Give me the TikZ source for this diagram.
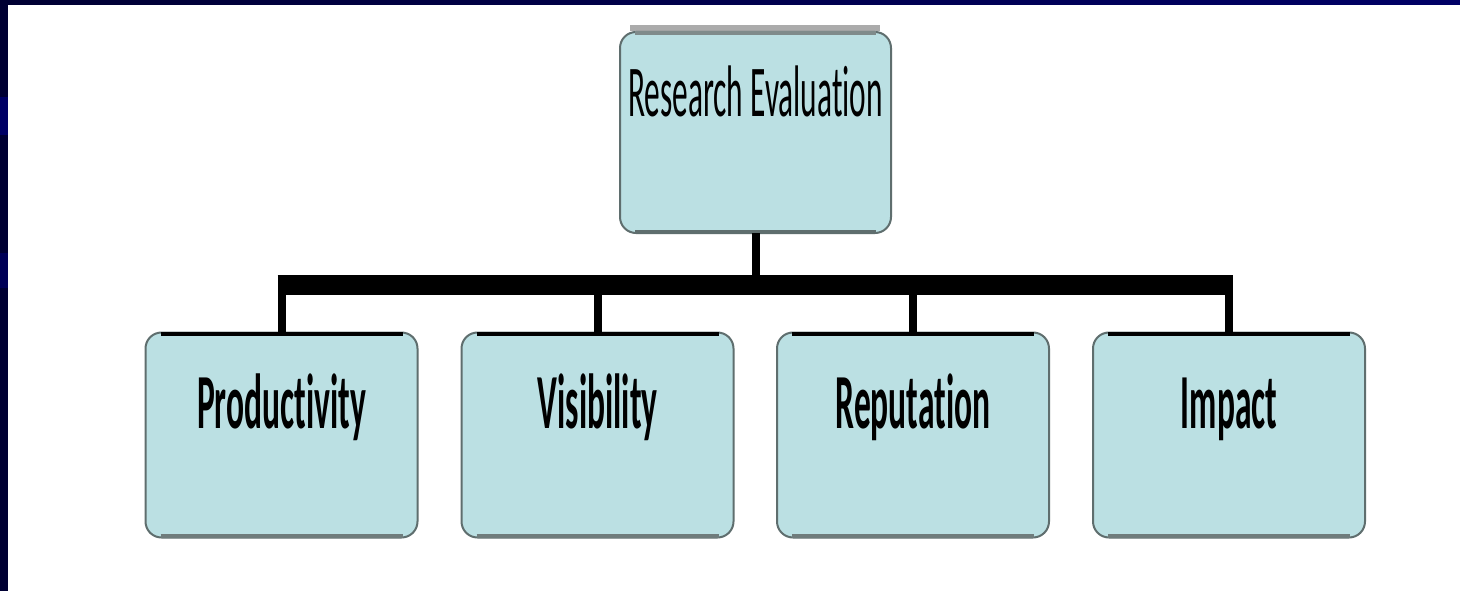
\documentclass[tikz,border=0pt]{standalone}
\usepackage{fontspec}
\newfontfamily\labfont[FakeStretch=0.43,RawFeature={-liga;-dlig;-calt}]{Carlito}
\newfontfamily\topfont[FakeStretch=0.43,RawFeature={-liga;-dlig;-calt}]{Carlito}
\usetikzlibrary{calc}
\definecolor{navyA}{HTML}{000033}
\definecolor{navyB}{HTML}{000066}
\definecolor{boxfill}{HTML}{BBE0E3}
\definecolor{boxline}{HTML}{5F6E6E}
\definecolor{shadowgray}{HTML}{ABABAB}
\tikzset{
  box/.style={draw=boxline, line width=2pt, fill=boxfill, rounded corners=16pt,
    minimum width=272pt, minimum height=205pt, inner sep=0pt, outer sep=0pt},
  toplabel/.style={font=\topfont\fontsize{73}{80}\selectfont, anchor=base, inner sep=0pt},
  lab/.style={font=\labfont\bfseries\fontsize{78}{84}\selectfont, anchor=base, inner sep=0pt},
  drop/.style={line width=8pt, black},
  bar/.style={line width=20pt, black},
}
\begin{document}
\begin{tikzpicture}[x=1pt,y=-1pt]
\useasboundingbox (0,0) rectangle (1460,591);
\fill[white] (0,0) rectangle (1460,591);
% frame
\shade[left color=navyA, right color=navyB] (0,0) rectangle (1460,5);
\fill[navyA] (0,0) rectangle (8,591);
\fill[navyB] (0,97) rectangle (8,135);
\fill[navyB!70!navyA] (0,253) rectangle (8,288);
% top box
\fill[shadowgray] (630,25) rectangle (880,31);
\node[box, minimum width=271pt, minimum height=201pt] (top) at (755.5,132.5) {};
\draw[boxline!80!white, line width=4pt] ([xshift=15pt,yshift=-1.5pt]top.north west) -- ([xshift=-15pt,yshift=-1.5pt]top.north east);
\draw[boxline, line width=4pt] ([xshift=15pt,yshift=1.5pt]top.south west) -- ([xshift=-15pt,yshift=1.5pt]top.south east);
\node[toplabel] (toptext) at ($(top.north)+(0,85)$) {Research Evaluation};
% children
\foreach \n/\x/\t in {p/281.5/Productivity, v/597.5/Visibility, r/913/Reputation, i/1229/Impact}{
  \node[box] (\n) at (\x,435) {};
  \draw[black, line width=4pt] ([xshift=15pt,yshift=-1.5pt]\n.north west) -- ([xshift=-15pt,yshift=-1.5pt]\n.north east);
  \draw[boxline!90!white, line width=4pt] ([xshift=15pt,yshift=1.5pt]\n.south west) -- ([xshift=-15pt,yshift=1.5pt]\n.south east);
  \node[lab] (\n t) at ($(\n.north)+(0,96)$) {\t};
}
% connectors
\coordinate (barL) at ($(p.north |- 0,285)+(-4,0)$);
\coordinate (barR) at ($(i.north |- 0,285)+(4,0)$);
\draw[bar] (barL) -- (barR);
\draw[drop] (top.south) -- (top.south |- barL);
\foreach \n in {p,v,r,i}{
  \draw[drop] (\n.north) -- (\n.north |- barL);
}
\end{tikzpicture}
\end{document}
